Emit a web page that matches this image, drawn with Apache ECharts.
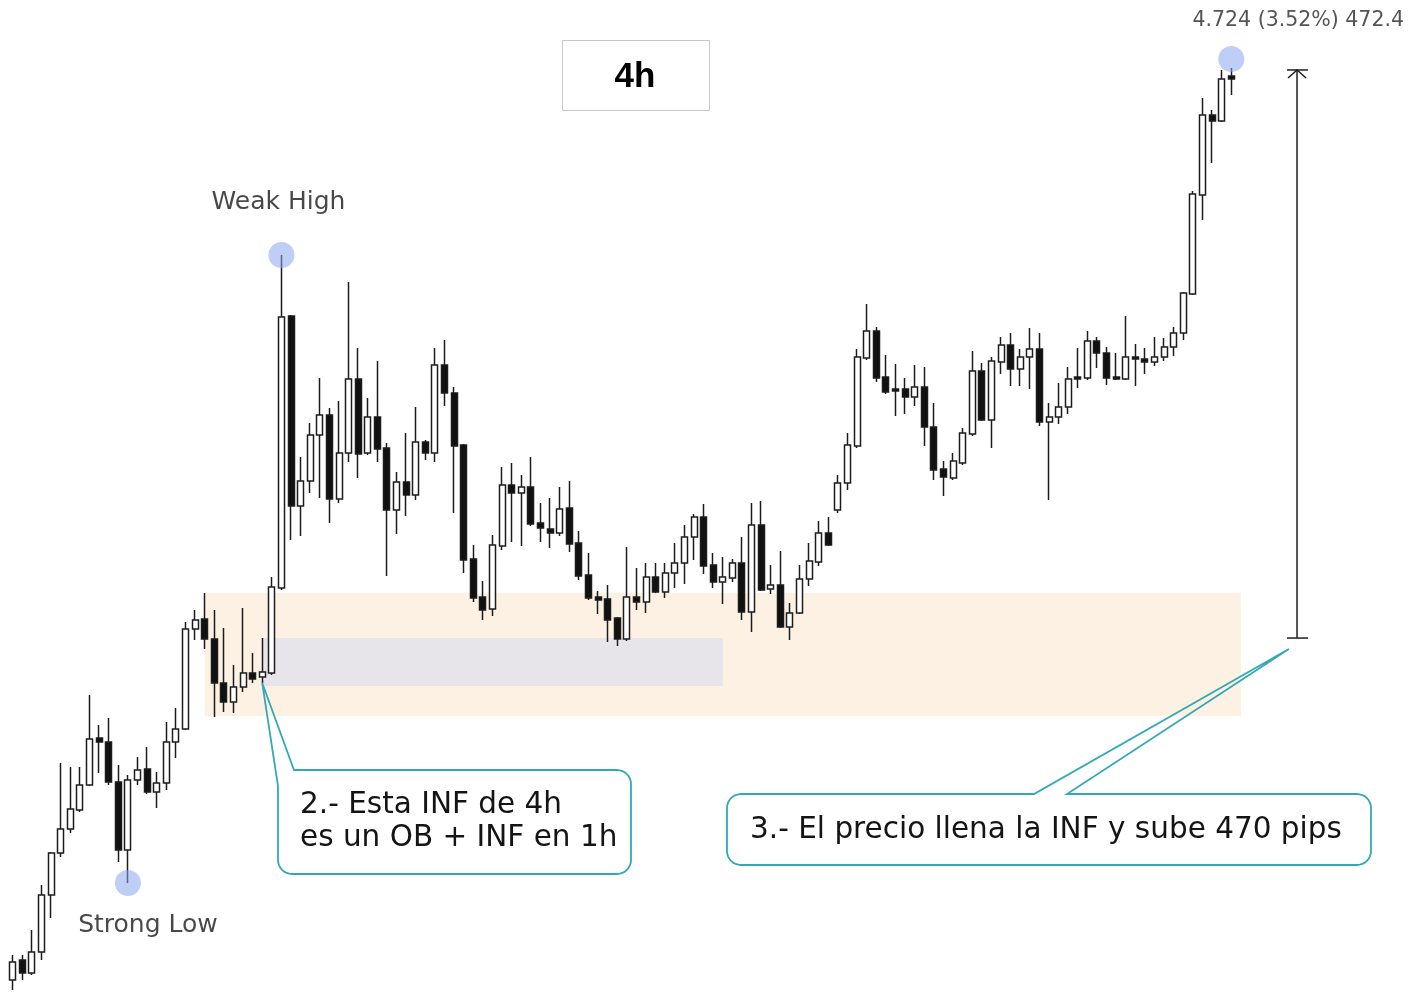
<!DOCTYPE html>
<html>
<head>
<meta charset="utf-8">
<script src="https://cdn.jsdelivr.net/npm/echarts@6/dist/echarts.min.js"></script>
<style>
html,body{margin:0;padding:0;background:#ffffff;}
#chart{width:1424px;height:992px;}
</style>
</head>
<body>
<div id="chart"></div>
<script>
// ---- 4h candles (price) ----
const opens = [
131.333,131.500,131.392,131.567,132.042,132.392,132.592,132.750,132.958,133.350,
133.317,132.983,132.417,133.000,133.092,132.900,132.975,133.317,133.425,134.258,
134.342,134.175,133.808,133.650,133.775,133.892,133.858,133.892,134.600,136.867,
135.283,135.492,135.875,136.042,135.342,135.725,136.342,135.725,136.025,135.767,
135.250,135.483,135.375,135.817,135.725,136.458,136.225,135.792,134.842,134.525,
134.425,134.950,135.458,135.392,135.442,135.142,135.092,135.058,135.267,134.975,
134.708,134.525,134.508,134.350,134.175,134.525,134.483,134.692,134.567,134.725,
134.808,135.025,135.192,134.792,134.650,134.683,134.808,134.400,135.125,134.592,
134.625,134.275,134.392,134.675,134.817,135.058,135.250,135.475,135.783,136.517,
136.742,136.358,136.258,136.258,136.192,136.275,135.942,135.592,135.517,135.642,
135.883,136.408,136.000,136.483,136.625,136.425,136.525,136.592,135.983,136.025,
136.108,136.358,136.350,136.658,136.558,136.358,136.342,136.525,136.508,136.483,
136.525,136.608,136.725,137.050,137.875,138.542,138.492,138.867];
const closes = [
131.483,131.392,131.567,132.042,132.392,132.592,132.758,132.958,133.342,133.317,
132.983,132.417,133.000,133.083,132.900,132.975,133.317,133.425,134.258,134.333,
134.175,133.808,133.650,133.775,133.892,133.842,133.900,134.608,136.858,135.283,
135.492,135.875,136.042,135.342,135.725,136.342,135.717,136.025,135.758,135.250,
135.483,135.375,135.817,135.725,136.458,136.225,135.783,134.833,134.517,134.417,
134.958,135.458,135.392,135.442,135.133,135.100,135.058,135.258,134.967,134.700,
134.517,134.500,134.333,134.175,134.525,134.483,134.692,134.567,134.725,134.808,
135.025,135.192,134.783,134.650,134.692,134.808,134.400,135.125,134.583,134.625,
134.275,134.392,134.675,134.825,135.058,134.958,135.475,135.792,136.525,136.742,
136.350,136.233,136.242,136.192,136.275,135.942,135.583,135.525,135.658,135.892,
136.408,136.000,136.492,136.625,136.425,136.525,136.592,135.983,136.025,136.108,
136.342,136.342,136.658,136.558,136.350,136.342,136.525,136.508,136.483,136.525,
136.608,136.725,137.058,137.883,138.542,138.492,138.842,138.842];
const lows = [
131.250,131.333,131.375,131.500,131.850,132.358,132.558,132.733,132.950,133.058,
132.958,132.317,132.142,132.958,132.883,132.767,132.917,133.183,133.417,134.167,
134.092,133.525,133.567,133.558,133.733,133.808,133.808,133.875,134.583,135.000,
135.033,135.392,135.350,135.142,135.308,135.650,135.517,135.708,135.650,134.700,
135.050,135.200,135.333,135.667,135.650,136.117,135.225,134.725,134.483,134.333,
134.367,134.917,134.983,134.950,135.117,134.983,134.933,135.033,134.900,134.667,
134.500,134.383,134.150,134.117,134.158,134.417,134.392,134.558,134.517,134.600,
134.633,134.833,134.717,134.600,134.467,134.650,134.333,134.233,134.575,134.550,
134.267,134.167,134.383,134.617,134.783,134.950,135.225,135.417,135.767,136.500,
136.317,136.217,136.033,136.050,136.117,135.783,135.500,135.367,135.500,135.625,
135.867,135.992,135.767,136.383,136.283,136.283,136.258,135.950,135.333,135.967,
136.050,136.267,136.333,136.433,136.292,136.333,136.333,136.283,136.383,136.450,
136.492,136.533,136.667,137.042,137.667,138.142,138.483,138.708];
const highs = [
131.542,131.542,131.750,132.125,132.400,133.142,133.108,133.108,133.708,133.458,
133.517,133.125,133.042,133.192,133.275,133.067,133.483,133.600,134.317,134.417,
134.558,134.417,134.267,133.958,134.433,134.058,134.183,134.692,137.375,136.875,
135.692,135.975,136.350,136.100,136.158,137.150,136.600,136.183,136.492,135.808,
135.567,135.892,136.108,135.833,136.600,136.667,136.275,135.800,134.958,134.658,
135.042,135.608,135.642,135.542,135.692,135.308,135.350,135.442,135.492,135.075,
134.892,134.575,134.625,134.358,134.942,134.767,134.808,134.808,134.808,134.975,
135.125,135.217,135.300,134.892,134.858,134.842,135.025,135.308,135.325,134.792,
134.908,134.475,134.792,134.975,135.158,135.192,135.542,135.892,136.592,136.967,
136.775,136.542,136.467,136.350,136.458,136.442,136.142,135.658,135.725,135.933,
136.575,136.475,136.525,136.692,136.725,136.592,136.767,136.725,136.142,136.308,
136.442,136.600,136.742,136.692,136.608,136.558,136.867,136.633,136.600,136.692,
136.683,136.775,137.067,137.908,138.683,138.583,138.917,138.933];

// bar slots on the x axis (128 candles + empty space on the right)
const slotCount = 146;
const slots = Array.from({length: slotCount}, (_, i) => 'Bar ' + (i + 1));

// zones: [fromSlot, toSlot, lowPrice, highPrice]
const infZone = [20, 128, 133.533, 134.558];
const obZone  = [26, 74, 133.783, 134.183];

// swing points: [slot, price, label]
const swingPoints = [
  [28, 137.375, 'Weak High'],
  [12, 132.142, 'Strong Low'],
  [127, 139.008, '']
];

// measurement (slot position, from / to prices) and its label
const measureSlot = 133.85;
const measureFrom = 134.183;
const measureTo = 138.917;
const measureText = '4.724 (3.52%) 472.4';

// callouts: tip in data space
const callout2Tip = [26, 133.808];
const callout2Text = '2.- Esta INF de 4h\nes un OB + INF en 1h';
const callout3Tip = [133.0, 134.092];
const callout3Text = '3.- El precio llena la INF y sube 470 pips';
const titleText = '4h';

const chart = echarts.init(document.getElementById('chart'));
const candles = opens.map((o, i) => [o, closes[i], lows[i], highs[i]]);

const labelOffsets = { 'Weak High': [-3, -52], 'Strong Low': [20, 43] };
const slotPx = 9.5946;

chart.setOption({
  animation: false,
  backgroundColor: '#ffffff',
  grid: { left: 8, top: 0, width: slotCount * slotPx, height: 992, containLabel: false },
  xAxis: [
    { type: 'category', data: slots, show: false, boundaryGap: true },
    { type: 'value', min: -0.5, max: slotCount - 0.5, show: false }
  ],
  yAxis: { type: 'value', min: 131.23333, max: 139.5, show: false, splitLine: { show: false } },
  series: [
    {
      type: 'candlestick',
      data: candles,
      barWidth: 6.5,
      z: 3,
      itemStyle: {
        color: '#ffffff', borderColor: '#1c1c1c',
        color0: '#111111', borderColor0: '#1c1c1c',
        borderColorDoji: '#1c1c1c',
        borderWidth: 1.5
      },
      markArea: {
        silent: true,
        data: [
          [{ xAxis: infZone[0], yAxis: infZone[3], itemStyle: { color: '#fdf1e3' } },
           { xAxis: infZone[1], yAxis: infZone[2] }],
          [{ xAxis: obZone[0], yAxis: obZone[3], itemStyle: { color: '#e7e4ea' } },
           { xAxis: obZone[1], yAxis: obZone[2] }]
        ]
      }
    },
    {
      type: 'scatter',
      z: 4,
      symbolSize: 26,
      itemStyle: { color: 'rgba(135,165,240,0.68)' },
      data: swingPoints.map(p => ({
        value: [p[0], p[1]],
        label: {
          show: p[2] !== '',
          formatter: p[2],
          position: 'inside',
          offset: labelOffsets[p[2]] || [0, 0],
          fontFamily: 'DejaVu Sans',
          fontSize: 25,
          color: '#1a1a1a'
        }
      }))
    }
  ]
});

function px(xv, price) {
  return chart.convertToPixel({ xAxisIndex: 1, yAxisIndex: 0 }, [xv, price]);
}
function arcPts(cx, cy, r, a0, a1) {
  const out = [];
  const n = 8;
  for (let k = 0; k <= n; k++) {
    const a = (a0 + (a1 - a0) * k / n) * Math.PI / 180;
    out.push([cx + r * Math.cos(a), cy + r * Math.sin(a)]);
  }
  return out;
}

const teal = '#33a9b6';
const ink = '#1e1e1e';

const arrowTop = px(measureSlot, measureTo);
const arrowBot = px(measureSlot, measureFrom);
const ax = arrowTop[0];

const t2 = px(callout2Tip[0], callout2Tip[1]);
const box2 = { x0: 278, y0: 770, x1: 631, y1: 874, r: 14 };
const pts2 = [[294, box2.y0]]
  .concat(arcPts(box2.x1 - box2.r, box2.y0 + box2.r, box2.r, -90, 0))
  .concat(arcPts(box2.x1 - box2.r, box2.y1 - box2.r, box2.r, 0, 90))
  .concat(arcPts(box2.x0 + box2.r, box2.y1 - box2.r, box2.r, 90, 180))
  .concat([[box2.x0, 786], t2]);

const t3 = px(callout3Tip[0], callout3Tip[1]);
const box3 = { x0: 727, y0: 794, x1: 1371, y1: 865, r: 14 };
const pts3 = [[1067, box3.y0]]
  .concat(arcPts(box3.x1 - box3.r, box3.y0 + box3.r, box3.r, -90, 0))
  .concat(arcPts(box3.x1 - box3.r, box3.y1 - box3.r, box3.r, 0, 90))
  .concat(arcPts(box3.x0 + box3.r, box3.y1 - box3.r, box3.r, 90, 180))
  .concat(arcPts(box3.x0 + box3.r, box3.y0 + box3.r, box3.r, 180, 270))
  .concat([[1034, box3.y0], t3]);

chart.setOption({
  graphic: [
    // title box
    { type: 'rect', z: 20, shape: { x: 562.5, y: 40.5, width: 147, height: 70 },
      style: { fill: '#ffffff', stroke: '#c8c8c8', lineWidth: 1 } },
    { type: 'text', z: 21, x: 635, y: 77,
      style: { text: titleText, fill: '#000000', font: 'bold 35px "Liberation Sans"', align: 'center', verticalAlign: 'middle' } },
    // measurement label
    { type: 'text', z: 21, x: 1404, y: 21,
      style: { text: measureText, fill: '#555555', font: '20.5px "DejaVu Sans"', align: 'right', verticalAlign: 'middle' } },
    // measurement arrow
    { type: 'line', z: 20, shape: { x1: ax, y1: arrowTop[1], x2: ax, y2: arrowBot[1] }, style: { stroke: ink, lineWidth: 1.5 } },
    { type: 'line', z: 20, shape: { x1: ax - 10, y1: arrowTop[1], x2: ax + 11, y2: arrowTop[1] }, style: { stroke: ink, lineWidth: 1.5 } },
    { type: 'polyline', z: 20, shape: { points: [[ax - 9, arrowTop[1] + 8], [ax, arrowTop[1]], [ax + 9, arrowTop[1] + 8]] }, style: { stroke: ink, lineWidth: 1.5, fill: 'none' } },
    { type: 'line', z: 20, shape: { x1: ax - 10, y1: arrowBot[1], x2: ax + 11, y2: arrowBot[1] }, style: { stroke: ink, lineWidth: 1.5 } },
    // callout 2
    { type: 'polygon', z: 20, shape: { points: pts2 }, style: { fill: 'rgba(255,255,255,0)', stroke: teal, lineWidth: 1.8 } },
    { type: 'text', z: 21, x: 300, y: 822,
      style: { text: callout2Text, fill: '#141414', font: '29.5px "DejaVu Sans"', lineHeight: 33, align: 'left', verticalAlign: 'middle' } },
    // callout 3
    { type: 'polygon', z: 20, shape: { points: pts3 }, style: { fill: 'rgba(255,255,255,0)', stroke: teal, lineWidth: 1.8 } },
    { type: 'text', z: 21, x: 750, y: 830,
      style: { text: callout3Text, fill: '#141414', font: '29.5px "DejaVu Sans"', align: 'left', verticalAlign: 'middle' } }
  ]
});
</script>
</body>
</html>
